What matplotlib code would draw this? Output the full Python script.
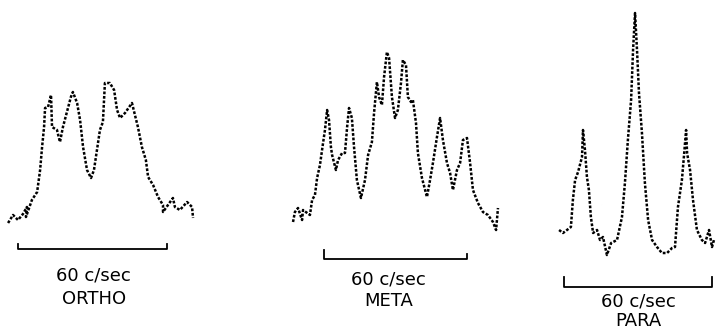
import matplotlib
matplotlib.use("Agg")
import matplotlib.pyplot as plt

# ortho spectrum: shift (c/sec from start of scale bar), relative intensity
ortho_x = [-4.0, -2.0, 0.0, 2.0, 3.6, 3.2, 5.6, 7.7, 8.9, 9.7, 10.5, 10.9, 12.1, 13.3,
           13.7, 15.7, 16.9, 18.1, 19.7, 21.3, 22.1, 23.8, 25.0, 26.2, 27.8, 29.4, 30.6,
           31.8, 33.0, 34.2, 35.0, 37.0, 38.7, 39.9, 41.1, 43.1, 45.9, 47.1, 48.3, 49.9,
           51.5, 52.4, 54.4, 56.4, 58.4, 58.4, 60.4, 62.4, 63.2, 65.2, 68.1, 70.1, 70.5]
ortho_y = [7, 15, 10, 16, 23, 13, 30, 38, 60, 83, 103, 122, 123, 135,
           103, 100, 88, 103, 118, 133, 138, 127, 110, 83, 60, 52, 60,
           80, 100, 108, 147, 147, 140, 120, 112, 117, 127, 115, 103, 83,
           70, 53, 45, 33, 25, 18, 25, 32, 23, 20, 28, 23, 12]

# meta spectrum
meta_x = [-13.0, -12.2, -10.9, -9.2, -8.8, -5.9, -5.0, -3.8, -2.9, -1.7, -0.4, 0.4, 1.3,
          2.1, 2.9, 3.4, 5.0, 5.9, 7.6, 8.8, 9.7, 10.5, 11.7, 12.6, 13.8, 15.5, 17.2,
          18.5, 20.1, 21.0, 22.2, 23.1, 24.3, 25.2, 26.4, 27.3, 28.5, 29.8, 31.0, 32.3,
          33.1, 34.4, 35.2, 36.5, 37.3, 38.6, 39.4, 41.1, 43.2, 44.5, 45.7, 47.4, 48.7,
          49.9, 51.6, 52.9, 54.1, 55.8, 57.1, 58.3, 60.0, 61.3, 62.5, 64.6, 66.7, 68.8,
          70.9, 72.2, 73.0]
meta_y = [8, 18, 22, 10, 20, 15, 30, 35, 52, 65, 87, 100, 120,
          110, 83, 75, 60, 70, 77, 77, 103, 122, 112, 83, 50, 32, 50,
          75, 88, 117, 148, 133, 125, 153, 178, 172, 133, 112, 120, 147,
          170, 165, 133, 128, 130, 107, 77, 52, 33, 50, 67, 93, 112,
          90, 67, 57, 40, 60, 67, 90, 92, 67, 40, 27, 18, 15,
          8, 0, 22]

# para spectrum
para_x = [-2.0, -0.4, 1.2, 2.8, 3.6, 4.5, 5.7, 7.3, 7.7, 8.5, 9.3, 10.1, 10.9, 11.8,
          13.4, 14.6, 15.8, 17.4, 19.1, 21.5, 23.5, 24.7, 25.9, 27.2, 28.0, 28.8, 29.6,
          30.4, 31.6, 32.8, 34.1, 35.7, 37.7, 39.7, 41.8, 43.8, 45.0, 46.2, 47.8, 48.6,
          49.5, 49.9, 51.1, 52.3, 53.9, 55.9, 57.2, 58.8, 60.0, 60.8]
para_y = [30, 27, 30, 33, 60, 80, 88, 103, 130, 110, 83, 70, 43, 27,
          30, 20, 23, 5, 17, 20, 43, 77, 120, 160, 210, 247, 210,
          167, 127, 77, 40, 20, 13, 7, 7, 12, 13, 53, 80, 103,
          130, 107, 90, 60, 30, 20, 17, 30, 13, 20]

names = ["ORTHO", "META", "PARA"]

fig = plt.figure(figsize=(7.19, 3.31), dpi=100)

def panel(rect, xlim, ylim, xs, ys, bar_y, tick_l, tick_r, lab1_y, lab2_y, name, lab_x=30):
    ax = fig.add_axes(rect)
    ax.plot(xs, ys, color="black", lw=1.8, ls=(0, (1.1, 0.7)))
    ax.plot([0, 0, 60, 60], [bar_y + tick_l, bar_y, bar_y, bar_y + tick_r],
            color="black", lw=1.3)
    ax.text(lab_x, lab1_y, "60 c/sec", ha="center", va="center", fontsize=13)
    ax.text(lab_x, lab2_y, name, ha="center", va="center", fontsize=13)
    ax.set_xlim(xlim)
    ax.set_ylim(ylim)
    ax.axis("off")
    return ax

panel([0 / 719, 0, 200 / 719, 1], (-7.25, 73.3), (-101, 230),
      ortho_x, ortho_y, -19, 5, 5, -45, -69, names[0], 30.5)
panel([270 / 719, 0, 250 / 719, 1], (-22.66, 82.24), (-101, 230),
      meta_x, meta_y, -29, 9, 5, -50, -71, names[1], 27.0)
panel([540 / 719, 0, 179 / 719, 1], (-9.73, 62.84), (-71, 260),
      para_x, para_y, -27, 10, 10, -42, -61, names[2], 30.0)

fig.savefig("out.png", dpi=100)
